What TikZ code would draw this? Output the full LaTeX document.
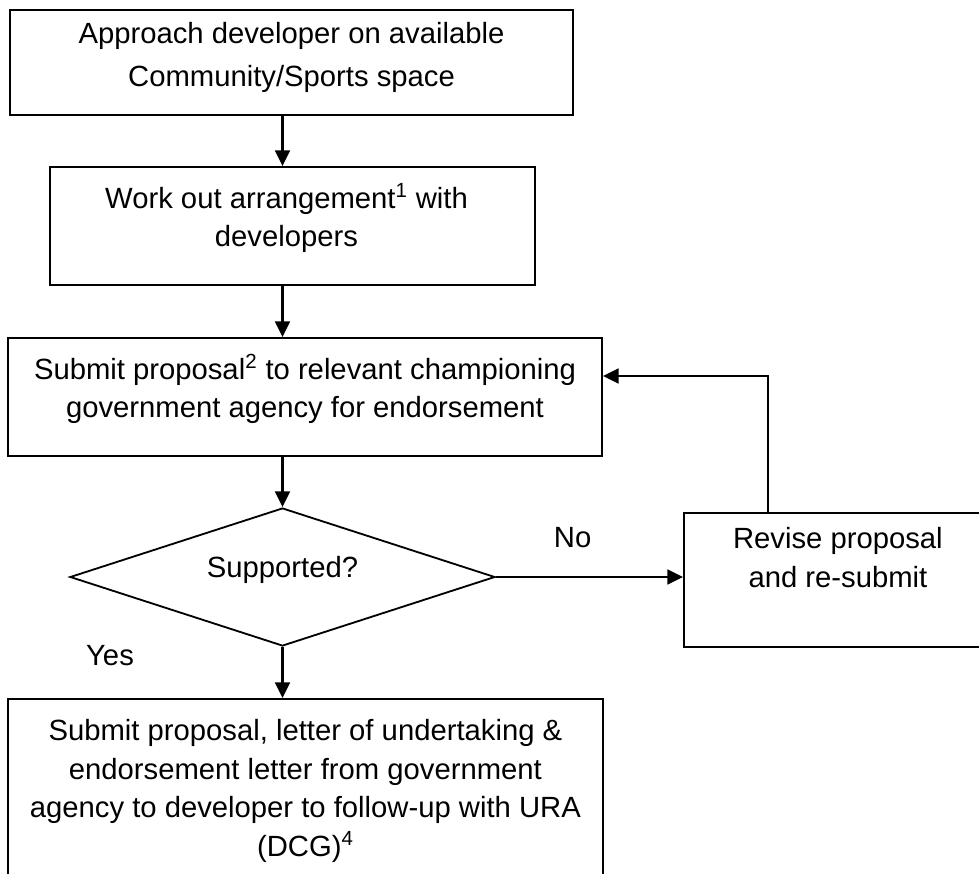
\documentclass[tikz,border=0pt]{standalone}
\usepackage{fontspec}
\setmainfont{Liberation Sans}
\usetikzlibrary{arrows.meta,shapes.geometric}

\begin{document}
\begin{tikzpicture}[
        stepbox/.style={draw,line width=1.3pt,inner sep=0pt},
        steptext/.style={align=center,inner sep=0pt,anchor=north,font=\fontsize{20.8}{27.5}\selectfont},
        flow/.style={->,line width=1.5pt},
        >={Triangle[length=.39cm,width=.37cm]},line join=miter
    ]
    \path[use as bounding box,clip] (0,0) rectangle (24.475,-21.85);
    \node[stepbox,minimum width=14.075cm,minimum height=2.625cm] (approach) at (7.2875,-1.5625) {};
    \node[stepbox,minimum width=12.125cm,minimum height=2.95cm] (work) at (7.3125,-5.65) {};
    \node[stepbox,minimum width=14.85cm,minimum height=2.95cm] (submit) at (7.625,-9.925) {};
    \node[stepbox,diamond,minimum width=10.625cm,minimum height=3.45cm] (supported) at (7.0625,-14.425) {};
    \node[stepbox,minimum width=7.7cm,minimum height=3.35cm,anchor=north west] (revise) at (17.075,-12.8) {};
    \node[stepbox,minimum width=14.875cm,minimum height=5.2cm,anchor=north west] (final) at (.175,-17.45) {};
    \node[steptext] (approach-t) at ([yshift=-.33cm]approach.north) {Approach developer on available\\[3pt]Community/Sports space};
    \node[steptext] (work-t) at ([xshift=-.15cm,yshift=-.43cm]work.north) {Work out arrangement\textsuperscript{1} with\\developers};
    \node[steptext] (submit-t) at ([yshift=-.425cm]submit.north) {Submit proposal\textsuperscript{2} to relevant championing\\government agency for endorsement};
    \node[steptext,anchor=base] (supported-t) at (supported.center) {Supported?};
    \node[steptext] (revise-t) at ([yshift=-.38cm]revise.north) {Revise proposal\\and re-submit};
    \node[steptext] (final-t) at ([yshift=-.525cm]final.north) {Submit proposal, letter of undertaking \&\\endorsement letter from government\\agency to developer to follow-up with URA\\(DCG)\textsuperscript{4}};
    \node[steptext,anchor=base] (yes) at (2.75,-16.625) {Yes};
    \draw[flow] (supported.north |- approach.south) -- (supported.north |- work.north);
    \draw[flow] (supported.north |- work.south) -- (supported.north |- submit.north);
    \draw[flow] (supported.north |- submit.south) -- (supported.north);
    \draw[flow] (supported.south) -- (supported.south |- final.north);
    \draw[flow] (supported.east) -- node[steptext,anchor=base,pos=.41,yshift=.75cm] (no) {No} (supported.east -| revise.west);
    \draw[flow] ([xshift=2.125cm]revise.north west) |- ([yshift=.525cm]submit.east);
\end{tikzpicture}
\end{document}
